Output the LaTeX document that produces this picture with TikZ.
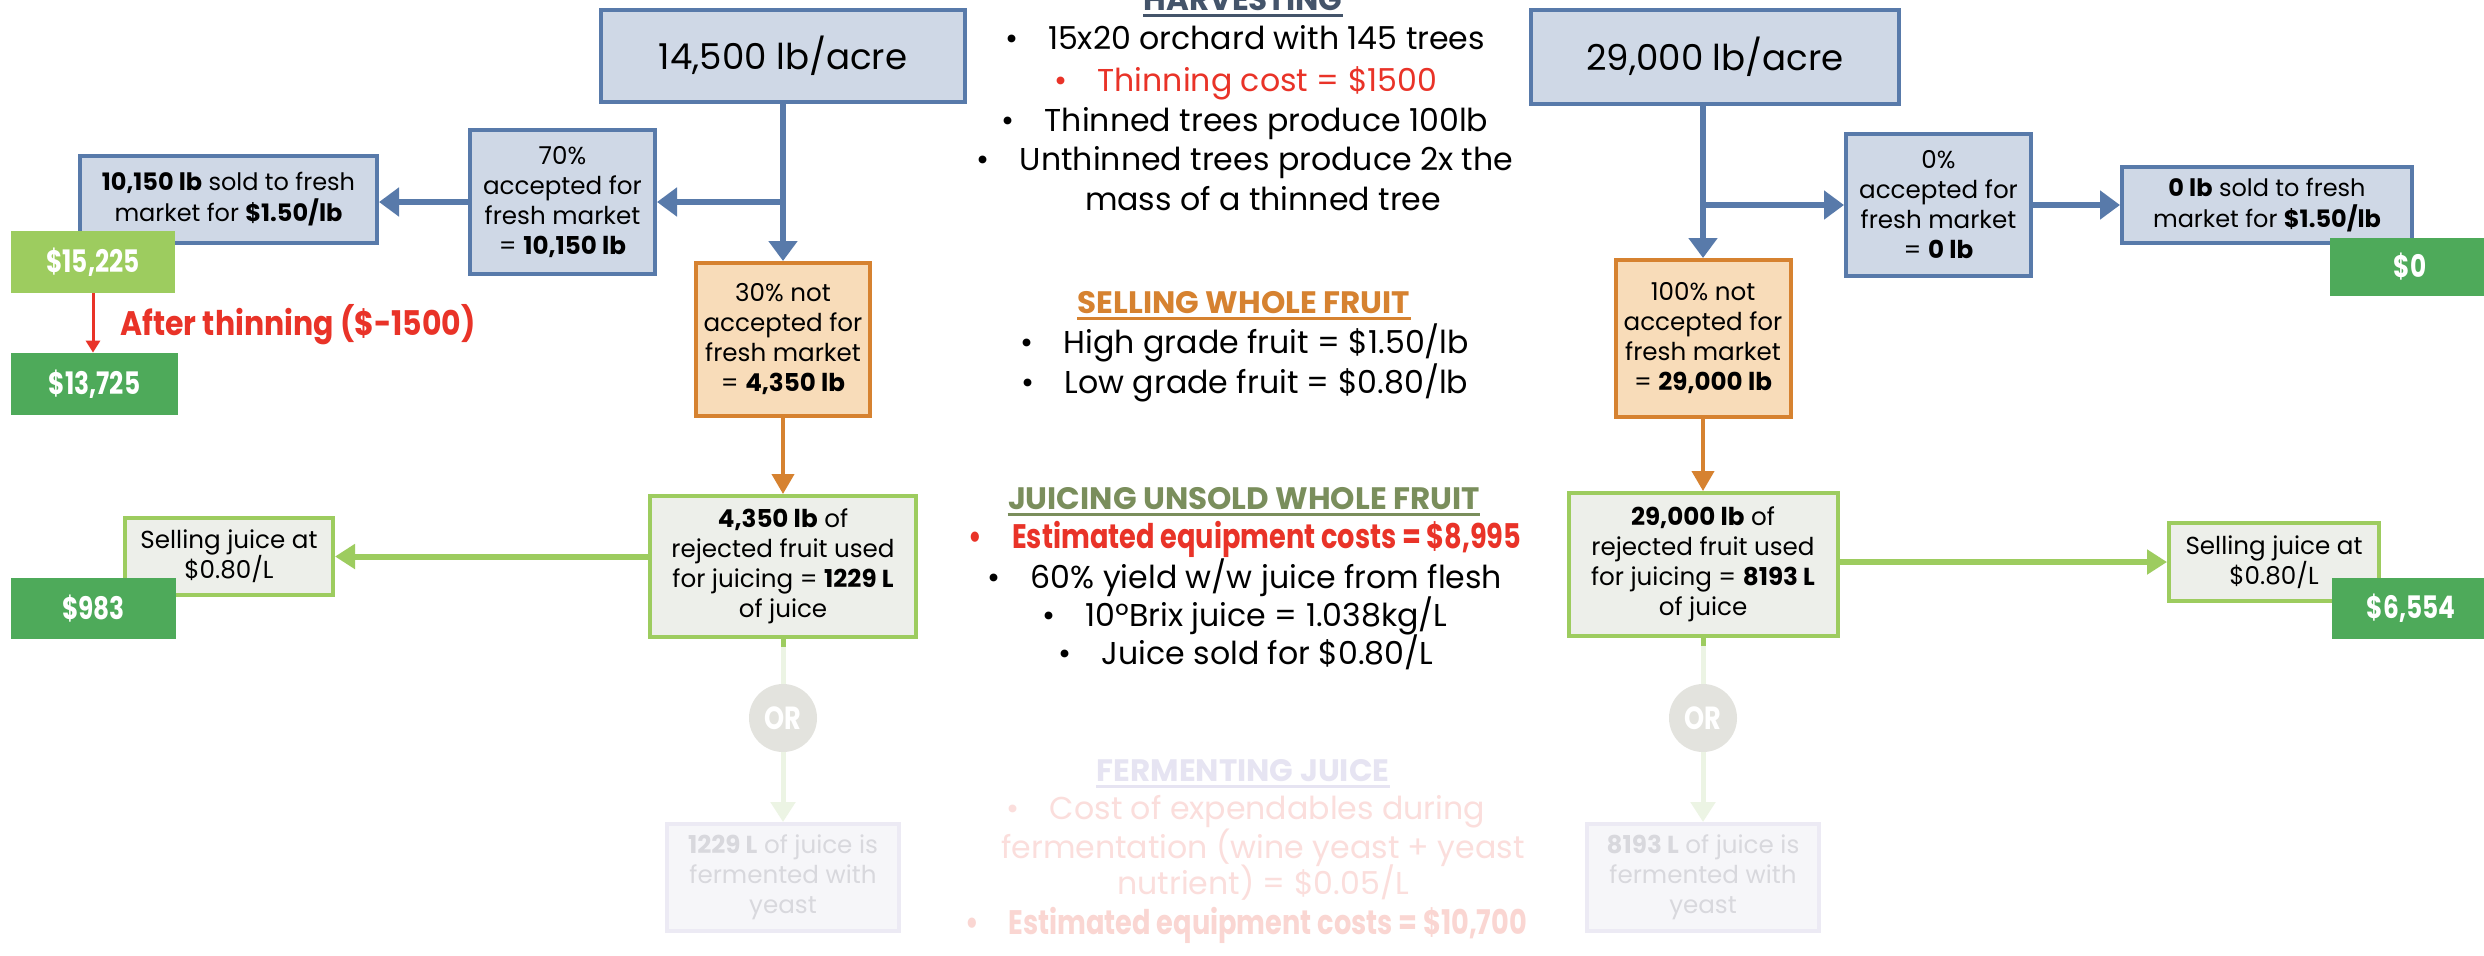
\documentclass[tikz,border=0pt]{standalone}
\usepackage{fontspec}
\setmainfont{Poppins}
\newfontfamily\condfont{Poppins}[FakeStretch=0.8]
\newfontfamily\semicond{Poppins}[FakeStretch=0.88]
\usetikzlibrary{arrows.meta,calc}
\definecolor{blueline}{RGB}{88,122,170}
\definecolor{bluefill}{RGB}{207,216,230}
\definecolor{orline}{RGB}{214,130,48}
\definecolor{orfill}{RGB}{248,220,185}
\definecolor{grline}{RGB}{157,204,95}
\definecolor{grfill}{RGB}{237,239,234}
\definecolor{darkmoney}{RGB}{78,170,90}
\definecolor{lightmoney}{RGB}{157,204,95}
\definecolor{redtxt}{RGB}{233,51,40}
\definecolor{harvblue}{RGB}{68,84,106}
\definecolor{juicegreen}{RGB}{122,142,92}
\definecolor{fadetitle}{RGB}{230,228,242}
\definecolor{fadepink}{RGB}{251,222,220}
\definecolor{fadepinkb}{RGB}{250,214,210}
\definecolor{fadefill}{RGB}{246,246,249}
\definecolor{fadedraw}{RGB}{236,234,244}
\definecolor{fadetext}{RGB}{216,216,221}
\definecolor{fadeconn}{RGB}{236,244,228}
\definecolor{orcircle}{RGB}{227,227,222}
\newcommand{\bul}{\textbullet\hspace{15pt}}
\begin{document}
\begin{tikzpicture}[x=0.5pt,y=-0.5pt,
  box/.style={draw, line width=2pt, inner sep=0pt, align=center, font=\fontsize{12.3}{15}\selectfont, text=black},
  bluebox/.style={box, draw=blueline, fill=bluefill},
  orangebox/.style={box, draw=orline, fill=orfill},
  greenbox/.style={box, draw=grline, fill=grfill},
  fadebox/.style={box, draw=fadedraw, fill=fadefill, text=fadetext},
  money/.style={draw=none, inner sep=0pt, text=white, font=\condfont\bfseries\fontsize{15.5}{18}\selectfont},
  orc/.style={circle, fill=orcircle, minimum size=34pt, inner sep=0pt, text=white, font=\condfont\bfseries\fontsize{16}{18}\selectfont},
  btext/.style={anchor=base, inner sep=0pt, font=\fontsize{15.8}{18}\selectfont},
  rtitle/.style={anchor=base, inner sep=0pt, font=\bfseries\fontsize{15.5}{18}\selectfont},
  bluearrow/.style={draw=blueline, line width=3pt, -{Triangle[length=10pt,width=14pt]}},
  orarrow/.style={draw=orline, line width=2pt, -{Triangle[length=10pt,width=11pt]}},
  grarrow/.style={draw=grline, line width=3pt, -{Triangle[length=10pt,width=12pt]}},
  fadeline/.style={draw=fadeconn, line width=2.5pt},
  fadearrow/.style={draw=fadeconn, line width=2.5pt, -{Triangle[length=10pt,width=12pt]}},
  redarrow/.style={draw=redtxt, line width=1.5pt, -{Triangle[length=6pt,width=7pt]}}
]
\useasboundingbox (0,0) rectangle (2484,955);
\fill[white] (0,0) rectangle (2484,955);

% ---------- boxes ----------
\node[bluebox, minimum width=182pt, minimum height=46pt, font=\fontsize{17.8}{20}\selectfont] (top14500) at (783,56) {14,500 lb/acre};
\node[bluebox, minimum width=184pt, minimum height=47pt, font=\fontsize{17.8}{20}\selectfont] (top29000) at (1715,56.5) {29,000 lb/acre};
\node[bluebox, minimum width=92.5pt, minimum height=72pt] (acc70) at (562.5,202) {70\%\\accepted for\\fresh market\\= \textbf{10,150 lb}};
\node[bluebox, minimum width=148.5pt, minimum height=43.5pt, font=\fontsize{12}{15.5}\selectfont] (sold10150) at (228.5,199.5) {\textbf{10,150 lb} sold to fresh\\market for \textbf{\$1.50/lb}};
\node[orangebox, minimum width=87pt, minimum height=76.5pt] (not30) at (783,339.5) {30\% not\\accepted for\\fresh market\\= \textbf{4,350 lb}};
\node[bluebox, minimum width=92.5pt, minimum height=71pt] (acc0) at (1938.5,205) {0\%\\accepted for\\fresh market\\= \textbf{0 lb}};
\node[bluebox, minimum width=145pt, minimum height=38pt, font=\fontsize{12}{15.5}\selectfont] (sold0) at (2267,205) {\textbf{0 lb} sold to fresh\\market for \textbf{\$1.50/lb}};
\node[orangebox, minimum width=87.5pt, minimum height=78.5pt] (not100) at (1703,338.5) {100\% not\\accepted for\\fresh market\\= \textbf{29,000 lb}};
\node[greenbox, minimum width=133pt, minimum height=70.5pt] (juice4350) at (783,566.5) {\textbf{4,350 lb} of\\rejected fruit used\\for juicing = \textbf{1229 L}\\of juice};
\node[greenbox, minimum width=104pt, minimum height=38.5pt] (sellL) at (229,556.5) {Selling juice at\\\$0.80/L};
\node[greenbox, minimum width=134.5pt, minimum height=71.5pt] (juice29000) at (1703,564.5) {\textbf{29,000 lb} of\\rejected fruit used\\for juicing = \textbf{8193 L}\\of juice};
\node[greenbox, minimum width=105pt, minimum height=39pt] (sellR) at (2274,562) {Selling juice at\\\$0.80/L};
\node[orc] (orL) at (783,718) {OR};
\node[orc] (orR) at (1703,718) {OR};
\node[fadebox, minimum width=116pt, minimum height=53.5pt] (fermL) at (783,877.5) {\textbf{1229 L} of juice is\\fermented with\\yeast};
\node[fadebox, minimum width=116pt, minimum height=53.5pt] (fermR) at (1703,877.5) {\textbf{8193 L} of juice is\\fermented with\\yeast};

% ---------- money boxes ----------
\node[money, fill=lightmoney, minimum width=82pt, minimum height=31pt] (m15225) at (93,262) {\$15,225};
\node[money, fill=darkmoney, minimum width=83.5pt, minimum height=31pt] (m13725) at (94.5,384) {\$13,725};
\node[money, fill=darkmoney, minimum width=80pt, minimum height=29pt] (m0) at (2410,267) {\$0};
\node[money, fill=darkmoney, minimum width=82.5pt, minimum height=30.5pt] (m983) at (93.5,608.5) {\$983};
\node[money, fill=darkmoney, minimum width=79pt, minimum height=30.5pt] (m6554) at (2411,608.5) {\$6,554};

\node[anchor=west, inner sep=0pt, text=redtxt, font=\semicond\bfseries\fontsize{17}{19}\selectfont] (thin) at (120,325) {After thinning (\$-1500)};

% ---------- connectors ----------
\draw[bluearrow] (top14500.south) -- (not30.north);
\draw[bluearrow] (top14500.south |- acc70.east) -- (acc70.east);
\draw[bluearrow] (acc70.west) -- (acc70.west -| sold10150.east);
\draw[redarrow] (m15225.south) -- (m15225.south |- m13725.north);
\draw[orarrow] (not30.south) -- (juice4350.north);
\draw[grarrow] (juice4350.west |- sellL.east) -- (sellL.east);
\draw[fadeline] (juice4350.south) -- (orL.north);
\draw[fadearrow] (orL.south) -- (fermL.north);
\draw[draw=grline, line width=2.5pt] (juice4350.south) -- ++(0,8);

\draw[bluearrow] (not100.north |- top29000.south) -- (not100.north);
\draw[bluearrow] (not100.north |- acc0.west) -- (acc0.west);
\draw[bluearrow] (acc0.east) -- (acc0.east -| sold0.west);
\draw[orarrow] (not100.south) -- (juice29000.north);
\draw[grarrow] (juice29000.east |- sellR.west) -- (sellR.west);
\draw[fadeline] (juice29000.south) -- (orR.north);
\draw[fadearrow] (orR.south) -- (fermR.north);
\draw[draw=grline, line width=2.5pt] (juice29000.south) -- ++(0,8);

% ---------- centre texts ----------
\node[rtitle, text=harvblue] (tharv) at (1243,10) {HARVESTING};
\node[btext] (h1) at (1245,49) {\bul 15x20 orchard with 145 trees};
\node[btext, text=redtxt] (h2) at (1246,91) {\bul Thinning cost = \$1500};
\node[btext] (h3) at (1245,131) {\bul Thinned trees produce 100lb};
\node[btext] (h4) at (1245,170) {\bul Unthinned trees produce 2x the};
\node[btext] (h5) at (1263,210) {mass of a thinned tree};

\node[rtitle, text=orline] (tsell) at (1244,313) {SELLING WHOLE FRUIT};
\node[btext] (s1) at (1245,353) {\bul High grade fruit = \$1.50/lb};
\node[btext] (s2) at (1245,393) {\bul Low grade fruit = \$0.80/lb};

\node[rtitle, text=juicegreen] (tjuice) at (1244,509) {JUICING UNSOLD WHOLE FRUIT};
\node[btext, text=redtxt, font=\condfont\bfseries\fontsize{17}{19}\selectfont] (j1) at (1245,548) {\bul Estimated equipment costs = \$8,995};
\node[btext] (j2) at (1245,588) {\bul 60\% yield w/w juice from flesh};
\node[btext] (j3) at (1245,626) {\bul 10ºBrix juice = 1.038kg/L};
\node[btext] (j4) at (1246,664) {\bul Juice sold for \$0.80/L};

\node[rtitle, text=fadetitle] (tferm) at (1243,781) {FERMENTING JUICE};
\node[btext, text=fadepink] (f1) at (1246,819) {\bul Cost of expendables during};
\node[btext, text=fadepink] (f2) at (1263,858) {fermentation (wine yeast + yeast};
\node[btext, text=fadepink] (f3) at (1263,894) {nutrient) = \$0.05/L};
\node[btext, text=fadepinkb, font=\condfont\bfseries\fontsize{17}{19}\selectfont] (f4) at (1246,934) {\bul Estimated equipment costs = \$10,700};

\draw[harvblue, line width=1.5pt] ([yshift=-2.5pt]tharv.base west) -- ([yshift=-2.5pt]tharv.base east);
\draw[orline, line width=1.5pt] ([yshift=-2.5pt]tsell.base west) -- ([yshift=-2.5pt]tsell.base east);
\draw[juicegreen, line width=1.5pt] ([yshift=-2.5pt]tjuice.base west) -- ([yshift=-2.5pt]tjuice.base east);
\draw[fadetitle, line width=1.5pt] ([yshift=-2.5pt]tferm.base west) -- ([yshift=-2.5pt]tferm.base east);
\end{tikzpicture}
\end{document}
